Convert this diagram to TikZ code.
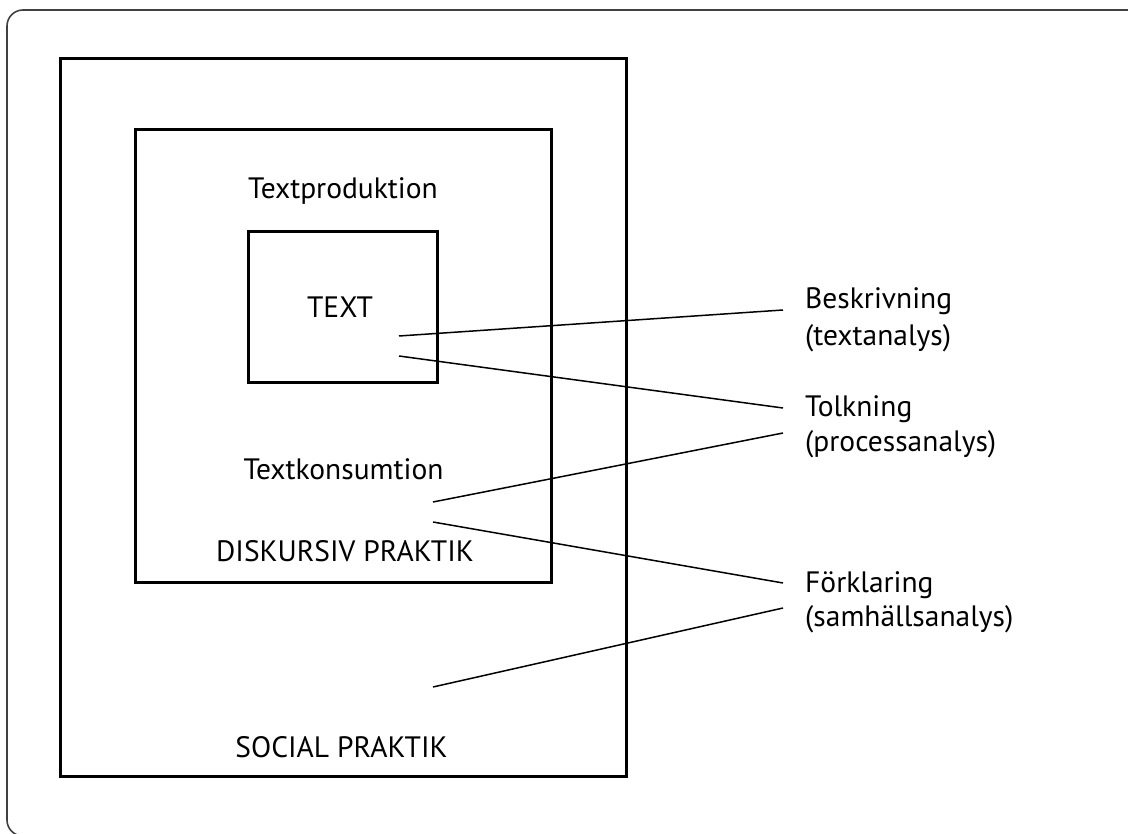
\documentclass[tikz,border=0pt]{standalone}
\usepackage{fontspec}
\setmainfont{PT Sans}
\begin{document}
\begin{tikzpicture}[x=1pt,y=-1pt,
  frame/.style={draw=black!75, line width=1.6pt, rounded corners=16pt},
  practicebox/.style={draw=black, line width=3pt},
  conn/.style={draw=black, line width=1.5pt},
  txt/.style={inner sep=0pt, font=\fontsize{29.5}{34}\selectfont},
  lbl/.style={inner sep=0pt, anchor=base west, font=\fontsize{29.5}{34}\selectfont}]
\useasboundingbox (0,0) rectangle (1128,834);
\begin{scope}
\clip (0,0) rectangle (1128,834);
\draw[frame] (7,10) rectangle (1150,836);
\end{scope}
% boxes
\node[practicebox, minimum width=566pt, minimum height=717pt, inner sep=0pt] (social) at (343,417.5) {};
\node[practicebox, minimum width=416pt, minimum height=452pt, inner sep=0pt] (diskursiv) at (343,356) {};
\node[practicebox, minimum width=189pt, minimum height=151pt, inner sep=0pt] (textbox) at (342.5,307.5) {};
% texts inside
\node[txt, anchor=base] (prod) at (343,199) {Textproduktion};
\node[txt, anchor=base] (textlbl) at (340,318) {TEXT};
\node[txt, anchor=base] (kons) at (343.5,479) {Textkonsumtion};
\node[txt, anchor=base] (disk) at (345,561) {DISKURSIV PRAKTIK};
\node[txt, anchor=base] (soc) at (341.5,757) {SOCIAL PRAKTIK};
% right labels
\node[lbl] (besk) at (805,309) {Beskrivning};
\node[lbl] (beskS) at (805,346) {(textanalys)};
\node[lbl] (tolk) at (805,417) {Tolkning};
\node[lbl] (tolkS) at (805,451) {(processanalys)};
\node[lbl] (fork) at (805,592) {Förklaring};
\node[lbl] (forkS) at (805,626) {(samhällsanalys)};
% connector ends
\coordinate (s1) at (399,336);
\coordinate (s2) at (399,356);
\coordinate (s3) at (433,502);
\coordinate (s4) at (433,522);
\coordinate (s5) at (433,687);
\coordinate (e1) at (783,310);
\coordinate (e2) at (783,408);
\coordinate (e3) at (783,433);
\coordinate (e4) at (783,583);
\coordinate (e5) at (783,608);
\draw[conn] (s1) -- (e1);
\draw[conn] (s2) -- (e2);
\draw[conn] (s3) -- (e3);
\draw[conn] (s4) -- (e4);
\draw[conn] (s5) -- (e5);
\end{tikzpicture}
\end{document}
